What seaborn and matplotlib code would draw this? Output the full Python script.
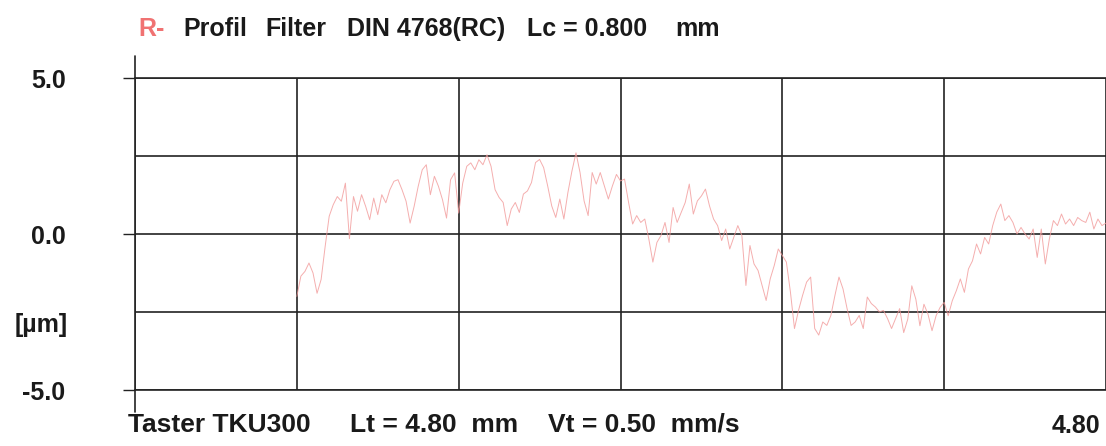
import numpy as np
import matplotlib
matplotlib.use("Agg")
import matplotlib.pyplot as plt
import seaborn as sns

# ---------------- data ----------------
x_start_mm = 0.80
x_step_mm = 0.02
profile_um = [
    # 0.80 - 1.78 mm
    -2.00, -1.35, -1.20, -0.93, -1.25, -1.90, -1.46, -0.40, 0.57, 0.94,
    1.20, 1.05, 1.63, -0.15, 1.20, 0.73, 1.26, 0.89, 0.46, 1.15,
    0.62, 1.26, 1.00, 1.42, 1.69, 1.74, 1.42, 1.05, 0.35, 0.89,
    1.53, 2.06, 2.22, 1.26, 1.85, 1.53, 1.10, 0.51, 1.74, 1.96,
    0.67, 1.63, 2.17, 2.28, 2.06, 2.38, 2.22, 2.54, 2.17, 1.42,
    # 1.80 - 2.78 mm
    1.17, 1.01, 0.27, 0.80, 1.01, 0.69, 1.28, 1.38, 1.65, 2.29,
    2.39, 2.13, 1.54, 0.90, 0.53, 1.12, 0.48, 1.33, 2.02, 2.60,
    1.97, 1.06, 0.59, 1.97, 1.60, 1.97, 1.54, 1.12, 1.54, 1.91,
    1.70, 1.76, 1.01, 0.32, 0.59, 0.37, 0.48, -0.16, -0.90, -0.27,
    -0.05, 0.37, -0.27, 0.85, 0.37, 0.69, 1.01, 1.60, 0.64, 1.06,
    # 2.80 - 3.78 mm
    1.22, 1.44, 0.90, 0.48, 0.27, -0.21, 0.16, -0.48, -0.11, 0.27,
    -0.05, -1.65, -0.37, -0.96, -1.17, -1.65, -2.13, -1.44, -1.01, -0.48,
    -0.69, -0.90, -1.86, -3.03, -2.45, -1.97, -1.54, -1.38, -3.03, -3.24,
    -2.82, -2.93, -2.61, -1.97, -1.38, -1.76, -2.39, -2.93, -2.82, -2.61,
    -3.03, -2.02, -2.23, -2.34, -2.50, -2.45, -2.71, -3.03, -2.71, -2.39,
    # 3.80 - 4.80 mm
    -3.16, -2.73, -1.66, -2.09, -2.94, -2.25, -2.57, -3.10, -2.62, -2.35,
    -2.19, -2.62, -2.14, -1.82, -1.44, -1.87, -1.12, -0.86, -0.32, -0.64,
    -0.11, -0.32, 0.27, 0.70, 0.96, 0.43, 0.59, 0.37, 0.00, 0.21,
    0.00, -0.16, 0.16, -0.75, 0.16, -0.96, -0.16, 0.43, 0.27, 0.64,
    0.32, 0.48, 0.27, 0.53, 0.43, 0.37, 0.70, 0.16, 0.48, 0.27, 0.35,
]
x_mm = np.round(x_start_mm + x_step_mm * np.arange(len(profile_um)), 2)

x_grid_mm = [0.0, 0.8, 1.6, 2.4, 3.2, 4.0, 4.8]
y_major = [-5.0, 0.0, 5.0]
y_major_labels = ["-5.0", "0.0", "5.0"]
y_minor = [-2.5, 2.5]

title_parts = [("R-", 138, "#f07272"), ("Profil", 183, "#1a1a1a"),
               ("Filter", 265, "#1a1a1a"), ("DIN 4768(RC)", 347, "#1a1a1a"),
               ("Lc = 0.800", 527, "#1a1a1a"), ("mm", 675, "#1a1a1a")]
footer_parts = [("Taster TKU300", 128), ("Lt = 4.80  mm", 350),
                ("Vt = 0.50  mm/s", 548)]
x_end_label = "4.80"
y_unit = "[µm]"

# ---------------- figure ----------------
sns.set_theme(style="white")
plt.rcParams['font.family'] = ['Liberation Sans', 'DejaVu Sans']

W, H = 1106, 446
fig = plt.figure(figsize=(W / 100, H / 100), dpi=100)
fig.patch.set_facecolor("white")
ax = fig.add_axes([135 / W, 56 / H, 971 / W, 312 / H])
ax.set_facecolor("white")

sns.lineplot(x=x_mm, y=profile_um, ax=ax, color="#f29a9a",
             linewidth=0.7, alpha=0.8, zorder=3)

ax.set_xlim(0, 4.8)
ax.set_ylim(-5, 5)
ax.set_xticks(x_grid_mm)
ax.set_xticklabels([])
ax.tick_params(axis="x", length=0)
ax.set_yticks(y_major)
ax.set_yticklabels(y_major_labels, fontsize=18, fontweight="bold", color="#1a1a1a")
ax.set_yticks(y_minor, minor=True)
ax.tick_params(axis="y", which="major", direction="out", length=9, width=1.0,
               color="#222222", pad=41, left=True)
ax.tick_params(axis="y", which="minor", length=0)
ax.grid(True, which="both", color="#222222", linewidth=1.2)
ax.set_xlabel("")
ax.set_ylabel("")

for side in ["top", "bottom"]:
    ax.spines[side].set_color("#222222")
    ax.spines[side].set_linewidth(1.2)
ax.spines["right"].set_visible(False)
ax.spines["left"].set_visible(False)
ax.axvline(0, ymin=-0.07, ymax=1.07, color="#222222", linewidth=1.2,
           clip_on=False, zorder=4)

# texts
for txt, px, col in title_parts:
    fig.text(px / W, (H - 36) / H, txt, fontsize=18, fontweight="bold",
             color=col, ha="left", va="baseline")
for txt, px in footer_parts:
    fig.text(px / W, (H - 432) / H, txt, fontsize=19, fontweight="bold",
             color="#1a1a1a", ha="left", va="baseline")
fig.text(1100 / W, (H - 433) / H, x_end_label, fontsize=18, fontweight="bold",
         color="#1a1a1a", ha="right", va="baseline")
fig.text(68 / W, (H - 325) / H, y_unit, fontsize=18, fontweight="bold",
         color="#1a1a1a", ha="right", va="center")

fig.savefig("out.png", dpi=100, facecolor="white")
